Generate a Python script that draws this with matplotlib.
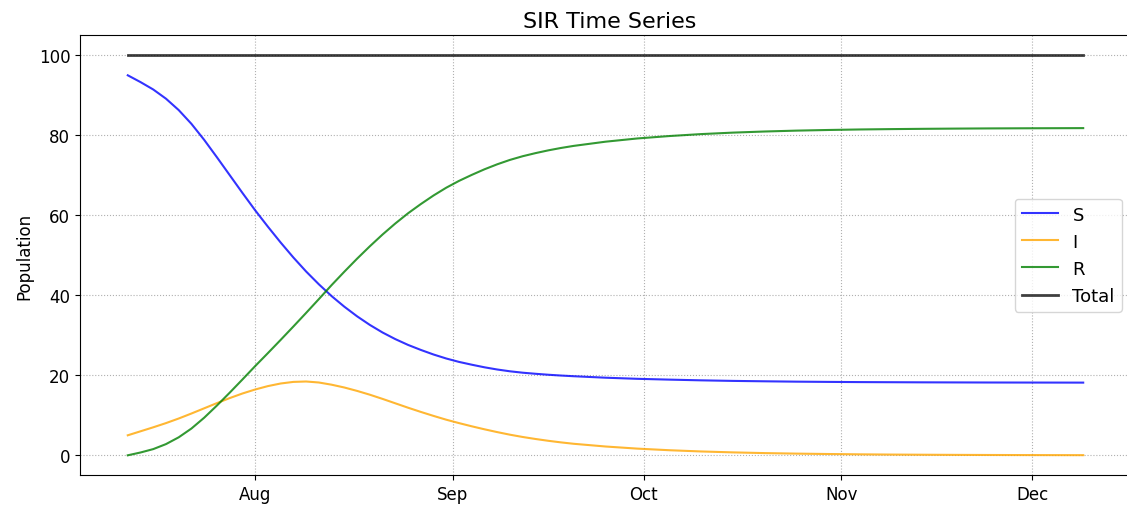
import numpy as np
import matplotlib
matplotlib.use("Agg")
import matplotlib.pyplot as plt
import matplotlib.dates as mdates

start_date = "2020-07-12"
days = [0, 2, 4, 6, 8, 10, 12, 14, 16, 18, 20, 22, 24, 26, 28, 30, 32, 34, 36, 38,
        40, 42, 44, 46, 48, 50, 52, 54, 56, 58, 60, 62, 64, 66, 68, 70,
        75, 80, 85, 90, 95, 100, 105, 110, 115, 120, 125, 130, 135, 140, 145, 150]

S = [95.0, 93.3, 91.45, 89.15, 86.3, 82.85, 78.85, 74.5, 70.05, 65.6, 61.25, 57.15,
     53.2, 49.45, 45.95, 42.75, 39.8, 37.15, 34.75, 32.6, 30.7, 29.05, 27.6, 26.35,
     25.2, 24.2, 23.35, 22.65, 22.0, 21.45, 21.0, 20.65, 20.38, 20.14, 19.94, 19.77,
     19.4, 19.12, 18.92, 18.74, 18.6, 18.5, 18.41, 18.35, 18.3, 18.27, 18.24, 18.22,
     18.2, 18.19, 18.18, 18.17]
I = [5.0, 6.0, 7.0, 8.05, 9.2, 10.45, 11.75, 13.05, 14.3, 15.45, 16.45, 17.3,
     17.95, 18.35, 18.45, 18.2, 17.65, 16.95, 16.1, 15.15, 14.1, 13.0, 11.9, 10.85,
     9.85, 8.9, 8.05, 7.25, 6.5, 5.8, 5.15, 4.58, 4.08, 3.63, 3.23, 2.88,
     2.2, 1.67, 1.27, 0.96, 0.73, 0.55, 0.42, 0.32, 0.24, 0.18, 0.14, 0.105,
     0.08, 0.06, 0.046, 0.035]
R = [0.0, 0.7, 1.55, 2.8, 4.5, 6.7, 9.4, 12.45, 15.65, 18.95, 22.3, 25.55,
     28.85, 32.2, 35.6, 39.05, 42.55, 45.9, 49.15, 52.25, 55.2, 57.95, 60.5, 62.8,
     64.95, 66.9, 68.6, 70.1, 71.5, 72.75, 73.85, 74.77, 75.54, 76.23, 76.83, 77.35,
     78.4, 79.21, 79.81, 80.3, 80.67, 80.95, 81.17, 81.33, 81.46, 81.55, 81.62, 81.675,
     81.72, 81.75, 81.774, 81.795]
Total = [100.0] * len(days)

series_labels = ["S", "I", "R", "Total"]
yticks = [0, 20, 40, 60, 80, 100]

plt.rcParams["font.size"] = 12
plt.rcParams["font.family"] = ["DejaVu Sans"]

dates = np.datetime64(start_date) + np.array(days).astype("timedelta64[D]")

W, H = 1127, 506
fig = plt.figure(figsize=(W / 100, H / 100), dpi=100)
ax = fig.add_axes([80 / W, (H - 476.3) / H, 1060 / W, 440 / H])

ax.plot(dates, S, color="blue", alpha=0.8, lw=1.5, label=series_labels[0])
ax.plot(dates, I, color="orange", alpha=0.8, lw=1.5, label=series_labels[1])
ax.plot(dates, R, color="green", alpha=0.8, lw=1.5, label=series_labels[2])
ax.plot(dates, Total, color="black", alpha=0.75, lw=2, label=series_labels[3])

ax.set_yticks(yticks)
ax.xaxis.set_major_locator(mdates.MonthLocator())
ax.xaxis.set_major_formatter(mdates.DateFormatter("%b"))
ax.grid(True, linestyle=":", color="#b0b0b0", lw=0.8)
ax.spines["right"].set_visible(False)
ax.set_ylabel("Population")
ax.set_title("SIR Time Series", fontsize=16)
# legend anchored at the visible right edge of the figure
ax.legend(loc="center right", fontsize=13, bbox_to_anchor=(1131 / W, 0.5 * (440 / H) + (H - 476.3) / H),
          bbox_transform=fig.transFigure)
# keep the data scale the same as before (axis right edge cut by the figure border)
ax.set_xlim(dates[0] - np.timedelta64(180, "h"), dates[-1] + np.timedelta64(180 + 34, "h"))

fig.savefig("out.png", dpi=100, facecolor="white")
